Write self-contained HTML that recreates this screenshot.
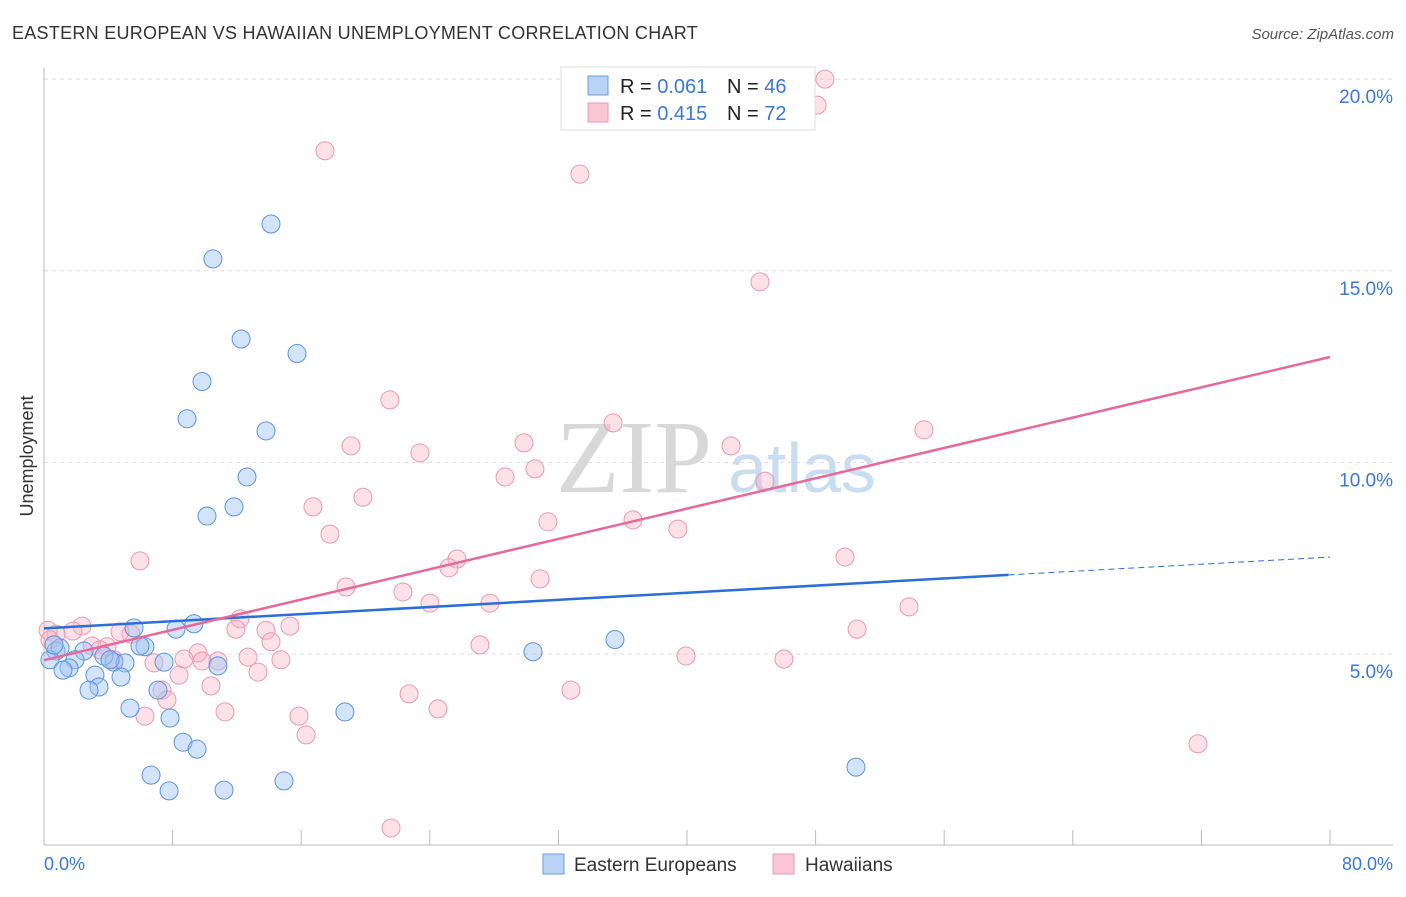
<!DOCTYPE html>
<html><head><meta charset="utf-8"><style>
body{margin:0;background:#fff;font-family:"Liberation Sans",sans-serif}
</style></head><body>
<svg width="1406" height="892" xmlns="http://www.w3.org/2000/svg">
<text x="12" y="39" font-size="18" fill="#333" letter-spacing="0.3" textLength="686">EASTERN EUROPEAN VS HAWAIIAN UNEMPLOYMENT CORRELATION CHART</text>
<text x="1394" y="39" font-size="15" fill="#555" font-style="italic" text-anchor="end">Source: ZipAtlas.com</text>
<text x="634" y="492" font-size="104" fill="#d8d8d8" font-family="Liberation Serif,serif" text-anchor="middle">ZIP</text>
<text x="802" y="492" font-size="70" fill="#c8dcf2" text-anchor="middle">atlas</text>
<g id="grid"></g>
<line x1="44" y1="68" x2="44" y2="845" stroke="#bbb"/>
<line x1="44" y1="845" x2="1393" y2="845" stroke="#bbb"/>
<text transform="translate(33,456) rotate(-90)" font-size="18" fill="#333" text-anchor="middle">Unemployment</text>
<text x="44" y="870" font-size="18" fill="#3a78d8">0.0%</text>
<text x="1393" y="870" font-size="18" fill="#3a78d8" text-anchor="end">80.0%</text>
<g id="pts"></g>
<g id="lines"></g>
<g>
<rect x="561" y="67" width="254" height="63" fill="#fff" stroke="#ddd"/>
<rect x="588" y="76" width="20" height="19" fill="#b8d3f5" stroke="#6a9ee0"/>
<rect x="588" y="103" width="20" height="19" fill="#fac5d4" stroke="#ee9ab4"/>
<text x="620" y="93" font-size="20" fill="#222">R = <tspan fill="#3a78d8">0.061</tspan></text>
<text x="727" y="93" font-size="20" fill="#222">N = <tspan fill="#3a78d8">46</tspan></text>
<text x="620" y="120" font-size="20" fill="#222">R = <tspan fill="#3a78d8">0.415</tspan></text>
<text x="727" y="120" font-size="20" fill="#222">N = <tspan fill="#3a78d8">72</tspan></text>
</g>
<g>
<rect x="543" y="854" width="21" height="20" fill="#b8d3f5" stroke="#6a9ee0"/>
<text x="574" y="871" font-size="19" fill="#333">Eastern Europeans</text>
<rect x="773" y="854" width="21" height="20" fill="#fac5d4" stroke="#ee9ab4"/>
<text x="805" y="871" font-size="19" fill="#333">Hawaiians</text>
</g>
</svg>
<script>
const yTicks=[5,10,15,20];
const yTickLabels=["5.0%","10.0%","15.0%","20.0%"];
const xTicks=[0,8,16,24,32,40,48,56,64,72,80];
const blueX=[14.12,10.51,12.26,15.74,9.83,8.90,13.81,12.63,11.82,10.14,5.60,9.33,8.21,6.28,7.47,4.35,5.04,3.73,2.49,0.75,1.00,0.37,1.93,1.56,1.18,10.82,3.17,4.79,3.42,2.80,7.09,5.35,7.84,8.65,9.52,6.66,7.78,11.20,14.93,18.72,30.42,35.52,50.51,4.11,0.62,5.97];
const blueY=[16.22,15.31,13.22,12.84,12.11,11.14,10.82,9.62,8.84,8.60,5.68,5.79,5.65,5.19,4.79,4.79,4.77,4.95,5.08,5.08,5.16,4.85,4.85,4.64,4.58,4.69,4.45,4.40,4.14,4.06,4.06,3.59,3.33,2.70,2.52,1.84,1.43,1.45,1.69,3.49,5.06,5.38,2.05,4.85,5.24,5.21];
const pinkX=[48.58,48.09,17.48,33.34,44.54,21.52,35.40,54.74,29.86,19.10,42.74,23.39,28.68,30.54,44.85,19.84,16.73,17.79,31.35,36.64,39.44,5.97,49.83,25.69,25.19,30.86,18.79,22.33,24.01,27.74,53.81,12.19,2.36,1.80,0.75,0.25,11.94,13.81,15.30,5.41,4.73,3.92,2.99,14.12,27.12,50.58,9.58,8.71,6.84,10.82,4.35,9.83,12.69,14.74,8.40,13.31,39.94,46.03,10.39,7.34,7.65,22.71,32.78,11.26,6.28,15.86,24.51,16.30,71.79,21.59,0.37,3.48];
const pinkY=[20.00,19.32,18.13,17.52,14.71,11.63,11.03,10.85,10.51,10.43,10.43,10.25,9.62,9.83,9.51,9.09,8.84,8.13,8.45,8.50,8.26,7.43,7.53,7.48,7.25,6.96,6.75,6.62,6.33,6.33,6.23,5.92,5.73,5.60,5.52,5.62,5.65,5.62,5.73,5.52,5.58,5.19,5.21,5.32,5.24,5.65,5.03,4.87,4.77,4.82,4.85,4.82,4.92,4.85,4.45,4.53,4.95,4.87,4.17,4.06,3.80,3.96,4.06,3.49,3.38,3.38,3.57,2.89,2.66,0.46,5.37,5.11];
const blueTrend=[5.67,7.53];
const pinkTrend=[4.84,12.75];
const NS='http://www.w3.org/2000/svg';
const sx=v=>44+v*16.075, sy=v=>845.7-v*38.33;
function mk(t,a,p){const e=document.createElementNS(NS,t);for(const k in a)e.setAttribute(k,a[k]);p.appendChild(e);return e;}
const grid=document.getElementById('grid');
yTicks.forEach((t,i)=>{
 const l=mk('line',{x1:44,x2:1393,y1:sy(t),y2:sy(t),stroke:'#ddd','stroke-dasharray':'4,4'},grid);
 
 
 const tx=mk('text',{x:1393,y:sy(t)+24,'font-size':19,fill:'#3a78d8','text-anchor':'end'},grid);
 tx.textContent=yTickLabels[i];
 
 
});
xTicks.forEach(t=>{
 const l=mk('line',{x1:sx(t),x2:sx(t),y1:830,y2:845,stroke:'#bbb'},grid);
 
 
});
const pts=document.getElementById('pts');
pinkX.forEach((x,i)=>{
 const c=mk('circle',{cx:sx(x),cy:sy(pinkY[i]),r:9,fill:'rgba(248,180,200,0.4)',stroke:'#eb98b2','stroke-width':1},pts);
 
 
});
blueX.forEach((x,i)=>{
 const c=mk('circle',{cx:sx(x),cy:sy(blueY[i]),r:9,fill:'rgba(160,196,240,0.45)',stroke:'#5b93e0','stroke-width':1},pts);
 
 
});
const lines=document.getElementById('lines');
const bAt=x=>blueTrend[0]+(blueTrend[1]-blueTrend[0])*x/80;
let l1=mk('line',{x1:sx(0),y1:sy(bAt(0)),x2:sx(60),y2:sy(bAt(60)),stroke:'#2a6fd6','stroke-width':2.5},lines);


let l2=mk('line',{x1:sx(60),y1:sy(bAt(60)),x2:sx(80),y2:sy(bAt(80)),stroke:'#2a6fd6','stroke-width':1,'stroke-dasharray':'6,4'},lines);


let l3=mk('line',{x1:sx(0),y1:sy(pinkTrend[0]),x2:sx(80),y2:sy(pinkTrend[1]),stroke:'#e8689a','stroke-width':2.5},lines);


</script>
</body></html>
